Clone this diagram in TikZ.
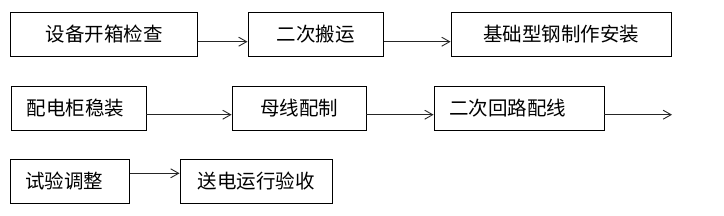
\documentclass[tikz,border=0pt]{standalone}
\usepackage{fontspec}
\setmainfont{Noto Sans CJK SC}
\usetikzlibrary{arrows.meta}

\begin{document}
\begin{tikzpicture}[
    x=1pt, y=-1pt,
    stepbox/.style={rectangle, draw=black, line width=0.8pt, minimum height=43.7pt,
                    inner sep=0pt, font=\fontsize{19.5}{22}\selectfont},
    leftbox/.style={stepbox, inner xsep=15pt, text width=#1, align=left},
    arrow/.style={-{Straight Barb[length=8pt, width=9pt]}, line width=0.9pt, black!85}
  ]
    \useasboundingbox (0,0) rectangle (724,215);
    \node[stepbox, minimum width=187pt] (check) at (104.2,34.2) {设备开箱检查};
    \node[stepbox, minimum width=135.7pt] (carry) at (315.8,34.2) {二次搬运};
    \node[stepbox, minimum width=220pt] (base) at (561,34.2) {基础型钢制作安装};
    \node[leftbox=104.3pt] (cabinet) at (78.8,108.3) {配电柜稳装};
    \node[stepbox, minimum width=134pt] (busbar) at (299,108.3) {母线配制};
    \node[leftbox=140pt] (wiring) at (519,108.3) {二次回路配线};
    \coordinate (next) at (672,114.7);
    \node[leftbox=89pt] (test) at (69.8,181.2) {试验调整};
    \node[stepbox, minimum width=152.7pt] (power) at (256.3,181.2) {送电运行验收};
    \draw[arrow] ([yshift=-7.5pt]check.east) -- ([yshift=-7.5pt]carry.west);
    \draw[arrow] ([yshift=-7.5pt]carry.east) -- ([yshift=-7.5pt]base.west);
    \draw[arrow] ([yshift=-6.4pt]cabinet.east) -- ([yshift=-6.4pt]busbar.west);
    \draw[arrow] ([yshift=-6.4pt]busbar.east) -- ([yshift=-6.4pt]wiring.west);
    \draw[arrow] (wiring.east |- next) -- (next);
    \draw[arrow] ([yshift=7.9pt]test.east) -- ([yshift=7.9pt]power.west);
  \end{tikzpicture}
\end{document}
